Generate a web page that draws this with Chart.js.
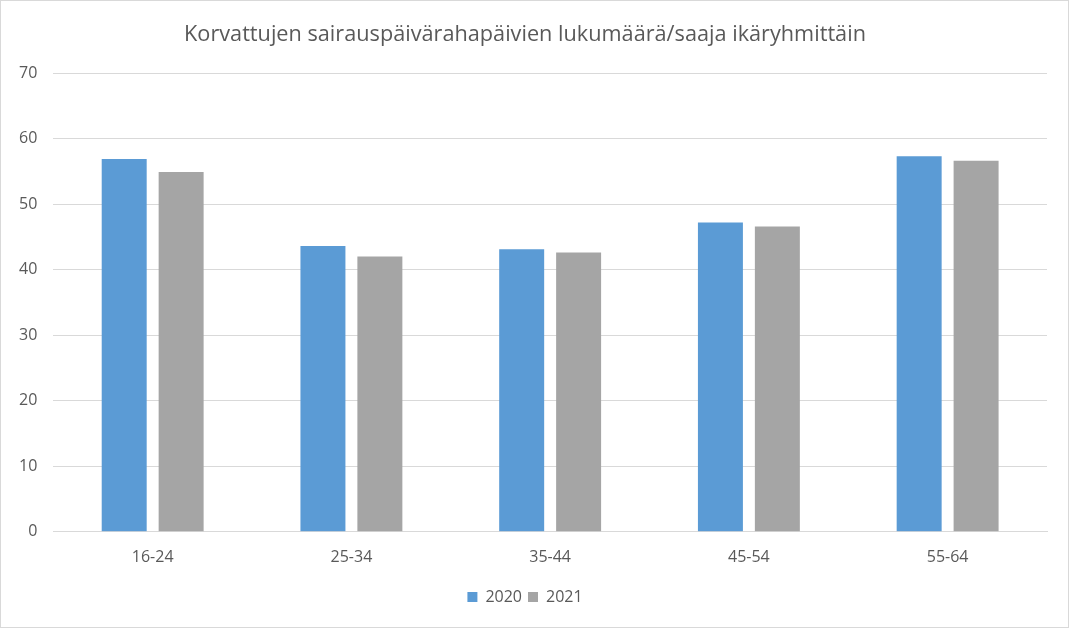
<!DOCTYPE html>
<html><head><meta charset="utf-8">
<script src="https://cdn.jsdelivr.net/npm/chart.js@4"></script>
<style>body{margin:0;background:#fff}canvas{display:block}</style>
</head><body>
<canvas id="c" width="1069" height="628"></canvas>
<script>
const categories = ["16-24","25-34","35-44","45-54","55-64"];
const values2020 = [56.9, 43.6, 43.1, 47.2, 57.3];
const values2021 = [54.9, 42.0, 42.6, 46.6, 56.6];
const seriesLabels = ["2020","2021"];
const titleText = "Korvattujen sairauspäivärahapäivien lukumäärä/saaja ikäryhmittäin";
const FONT = "'Open Sans', 'DejaVu Sans', sans-serif";

const borderPlugin = {
  id: 'outerBorder',
  afterDraw(chart){
    const ctx = chart.ctx;
    ctx.save();
    ctx.strokeStyle = '#d9d9d9';
    ctx.lineWidth = 1;
    ctx.strokeRect(0.5, 0.5, chart.width-1, chart.height-1);
    ctx.restore();
  }
};

new Chart(document.getElementById('c'), {
  type: 'bar',
  data: {
    labels: categories,
    datasets: [
      {label: seriesLabels[0], data: values2020, backgroundColor: '#5b9bd5', categoryPercentage: 0.573, barPercentage: 0.79},
      {label: seriesLabels[1], data: values2021, backgroundColor: '#a5a5a5', categoryPercentage: 0.573, barPercentage: 0.79}
    ]
  },
  options: {
    responsive: false,
    animation: false,
    layout: {padding: {left: 3, right: 22, top: 0, bottom: 13}},
    plugins: {
      title: {display: true, text: titleText, color: '#595959', font: {family: FONT, size: 21.7, weight: 'normal'}, padding: {top: 22, bottom: 25}},
      legend: {position: 'bottom', labels: {color: '#595959', font: {family: FONT, size: 16}, boxWidth: 10, boxHeight: 10, padding: 6}},
      tooltip: {enabled: false}
    },
    scales: {
      x: {
        grid: {display: false, drawTicks: false},
        border: {display: true, color: '#d9d9d9', width: 1},
        ticks: {color: '#595959', font: {family: FONT, size: 16}, padding: 16}
      },
      y: {
        min: 0, max: 70,
        ticks: {stepSize: 10, color: '#595959', font: {family: FONT, size: 16}, padding: 16},
        grid: {color: '#d9d9d9', drawTicks: false},
        border: {display: false}
      }
    }
  },
  plugins: [borderPlugin]
});
</script>
</body></html>
